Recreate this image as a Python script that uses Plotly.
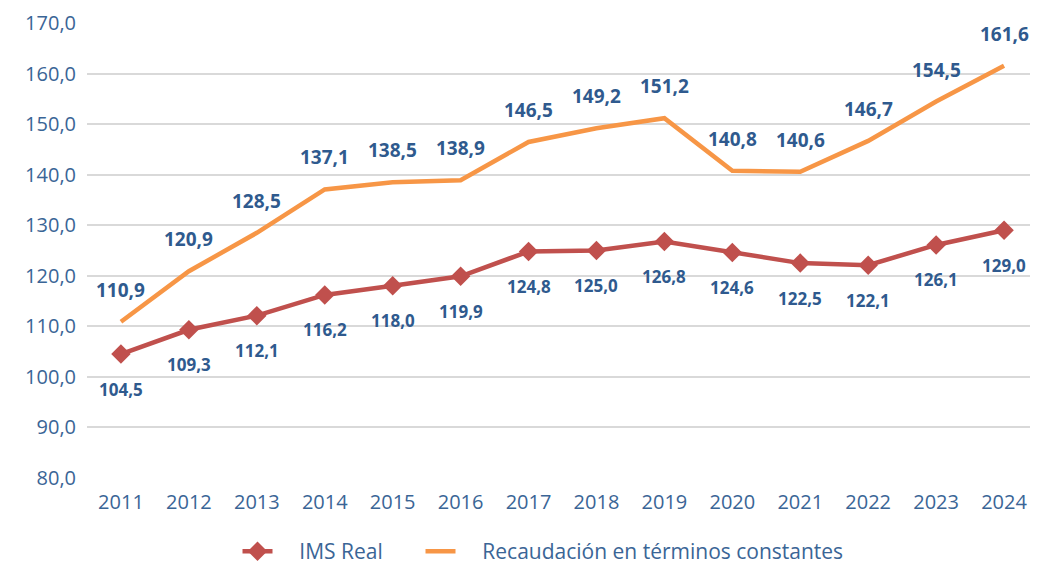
import plotly.graph_objects as go

years = ["2011", "2012", "2013", "2014", "2015", "2016", "2017", "2018", "2019", "2020", "2021", "2022", "2023", "2024"]
ims_real = [104.5, 109.3, 112.1, 116.2, 118.0, 119.9, 124.8, 125.0, 126.8, 124.6, 122.5, 122.1, 126.1, 129.0]
recaudacion = [110.9, 120.9, 128.5, 137.1, 138.5, 138.9, 146.5, 149.2, 151.2, 140.8, 140.6, 146.7, 154.5, 161.6]
y_ticks = [80, 90, 100, 110, 120, 130, 140, 150, 160, 170]

def fmt(v):
    return f"{v:.1f}".replace(".", ",")

label_color = "#2F5A8E"
tick_color = "#3A6596"
font_family = "Open Sans, Noto Sans, sans-serif"
pad = "\u00a0"

fig = go.Figure()
fig.add_trace(go.Scatter(
    x=years, y=ims_real, name=pad * 4 + "IMS Real" + pad * 6, mode="lines+markers",
    line=dict(color="#C0504D", width=4.5),
    marker=dict(symbol="diamond", size=15, color="#C0504D"),
))
fig.add_trace(go.Scatter(
    x=years, y=recaudacion, name=pad * 4 + "Recaudación en términos constantes", mode="lines",
    line=dict(color="#F79646", width=4.5),
))

annotations = []
for i, v in enumerate(recaudacion):
    annotations.append(dict(x=i, y=v, xref="x", yref="y", text=f"<b>{fmt(v)}</b>",
                            showarrow=False, yshift=32,
                            font=dict(size=19, color=label_color, family=font_family)))
for i, v in enumerate(ims_real):
    annotations.append(dict(x=i, y=v, xref="x", yref="y", text=f"<b>{fmt(v)}</b>",
                            showarrow=False, yshift=-35,
                            font=dict(size=17, color=label_color, family=font_family)))

# the page body adds an 8px offset on the left and top
fig.update_layout(
    width=1030, height=564,
    margin=dict(l=79, r=0, t=15, b=94, autoexpand=False),
    paper_bgcolor="white", plot_bgcolor="white",
    font=dict(family=font_family, color=tick_color),
    showlegend=True,
    legend=dict(orientation="h", x=0.4795, xanchor="center", yref="container",
                y=-0.015, yanchor="bottom",
                font=dict(size=21, color=tick_color), tracegroupgap=0),
    annotations=annotations,
    xaxis=dict(type="category", range=[-0.5, 13.5], showgrid=False, showline=False,
               zeroline=False, tickfont=dict(size=20, color=tick_color), ticks="",
               ticklabelstandoff=10, automargin=False),
    yaxis=dict(range=[79.95, 170.05], tickvals=y_ticks, ticktext=[fmt(t) for t in y_ticks],
               showgrid=True, gridcolor="#D9D9D9", gridwidth=2, zeroline=False,
               showline=False, tickfont=dict(size=20, color=tick_color), ticks="",
               ticklabelstandoff=10, automargin=False),
)

fig.write_html("out.html")
